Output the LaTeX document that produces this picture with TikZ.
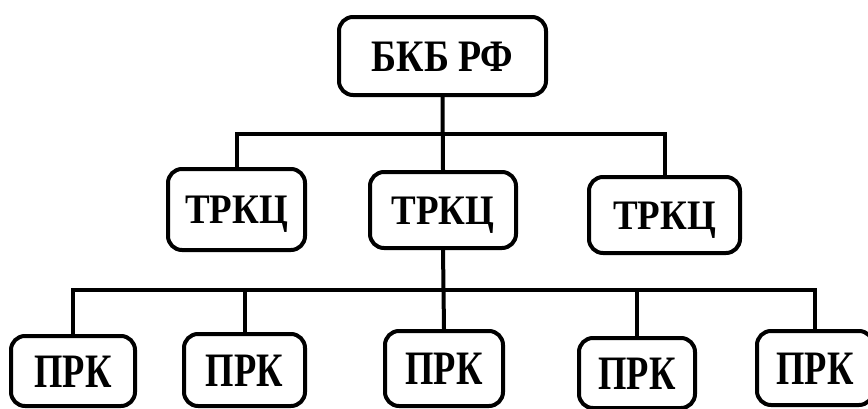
\documentclass[tikz,border=0pt]{standalone}
\usepackage{fontspec}
\setmainfont{Liberation Serif}
\newfontfamily\topfont{Liberation Serif Bold}[FakeStretch=0.84]
\newfontfamily\midfont{Liberation Serif Bold}[FakeStretch=0.88]
\newfontfamily\lowfont{Liberation Serif Bold}[FakeStretch=0.76]
\tikzset{
  box/.style={draw, line width=4pt, rounded corners=14pt, fill=white, inner sep=0pt, text depth=0pt},
  topbox/.style={box, minimum width=207pt, minimum height=78pt, font=\topfont\fontsize{45}{45}\selectfont, text height=30pt},
  midbox/.style={box, minimum width=137pt, minimum height=81pt, font=\midfont\fontsize{42}{42}\selectfont, text height=28pt},
  lowbox/.style={box, minimum width=124pt, minimum height=70pt, font=\lowfont\fontsize{48}{48}\selectfont, text height=32pt},
  conn/.style={line width=4pt, line join=miter}
}
\begin{document}
\begin{tikzpicture}[x=1pt, y=-1pt]
\useasboundingbox[fill=white] (0,0) rectangle (868,408);
\coordinate (j1) at (443,134);
\coordinate (j2) at (443,290);
\node[topbox] (bkb) at (442.5,56) {БКБ РФ};
\node[midbox] (t1) at (236.5,209.5) {ТРКЦ};
\node[midbox, minimum width=146pt, minimum height=76pt] (t2) at (443,210) {ТРКЦ};
\node[midbox, minimum width=151pt, minimum height=76pt] (t3) at (664.5,215) {ТРКЦ};
\node[lowbox] (p1) at (73,371) {ПРК};
\node[lowbox, minimum width=121pt, minimum height=72pt] (p2) at (244.5,370) {ПРК};
\node[lowbox, minimum width=118pt, minimum height=75pt] (p3) at (444,368.5) {ПРК};
\node[lowbox, minimum width=116pt, minimum height=70pt] (p4) at (637,373) {ПРК};
\node[lowbox, minimum width=116pt, minimum height=74pt] (p5) at (815,368) {ПРК};
\draw[conn] (bkb.south) -- (t2.north);
\draw[conn] (t1.north) |- (j1) -| (t3.north);
\draw[conn] (t2.south) -- (p3.north);
\draw[conn] (p1.north) |- (j2) -| (p5.north);
\draw[conn] (p2.north) -- (p2.north |- j2);
\draw[conn] (p4.north) -- (p4.north |- j2);
\end{tikzpicture}
\end{document}
